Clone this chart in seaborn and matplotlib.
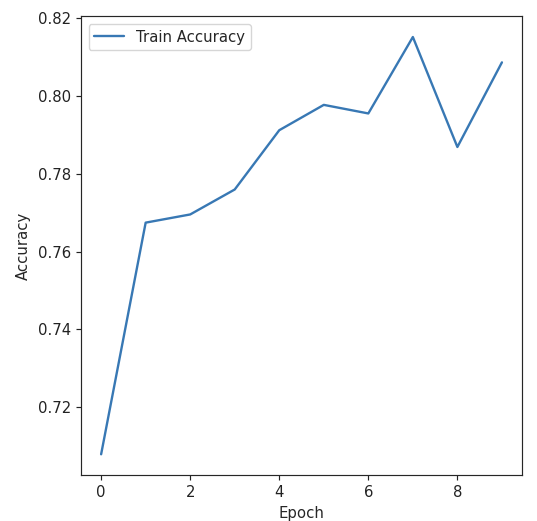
import matplotlib
matplotlib.use("Agg")
import matplotlib.pyplot as plt
import seaborn as sns
import pandas as pd

# Training accuracy per epoch
epochs = [0, 1, 2, 3, 4, 5, 6, 7, 8, 9]
train_accuracy = [0.7080, 0.7674, 0.7695, 0.7759, 0.7911, 0.7976, 0.7954, 0.8150, 0.7868, 0.8085]

df = pd.DataFrame({"Epoch": epochs, "Accuracy": train_accuracy})

sns.set_style("ticks")
plt.rcParams["font.family"] = ["DejaVu Sans"]

FS = 10.7

fig, ax = plt.subplots(figsize=(5.37, 5.21), dpi=100)
fig.subplots_adjust(left=0.151, right=0.972, top=0.969, bottom=0.088)

sns.lineplot(data=df, x="Epoch", y="Accuracy", ax=ax, color="#3878b4",
             linewidth=1.7, label="Train Accuracy")

ax.set_xticks([0, 2, 4, 6, 8])
ax.set_yticks([0.72, 0.74, 0.76, 0.78, 0.80, 0.82])
ax.set_yticklabels(["0.72", "0.74", "0.76", "0.78", "0.80", "0.82"])
ax.tick_params(labelsize=FS, length=3.8, width=0.85, colors="#222222")
ax.set_xlabel("Epoch", fontsize=FS, labelpad=4)
ax.set_ylabel("Accuracy", fontsize=FS, labelpad=5)
for s in ax.spines.values():
    s.set_linewidth(0.85)
ax.legend(loc="upper left", fontsize=FS, frameon=True)

fig.savefig("out.png", dpi=100)
